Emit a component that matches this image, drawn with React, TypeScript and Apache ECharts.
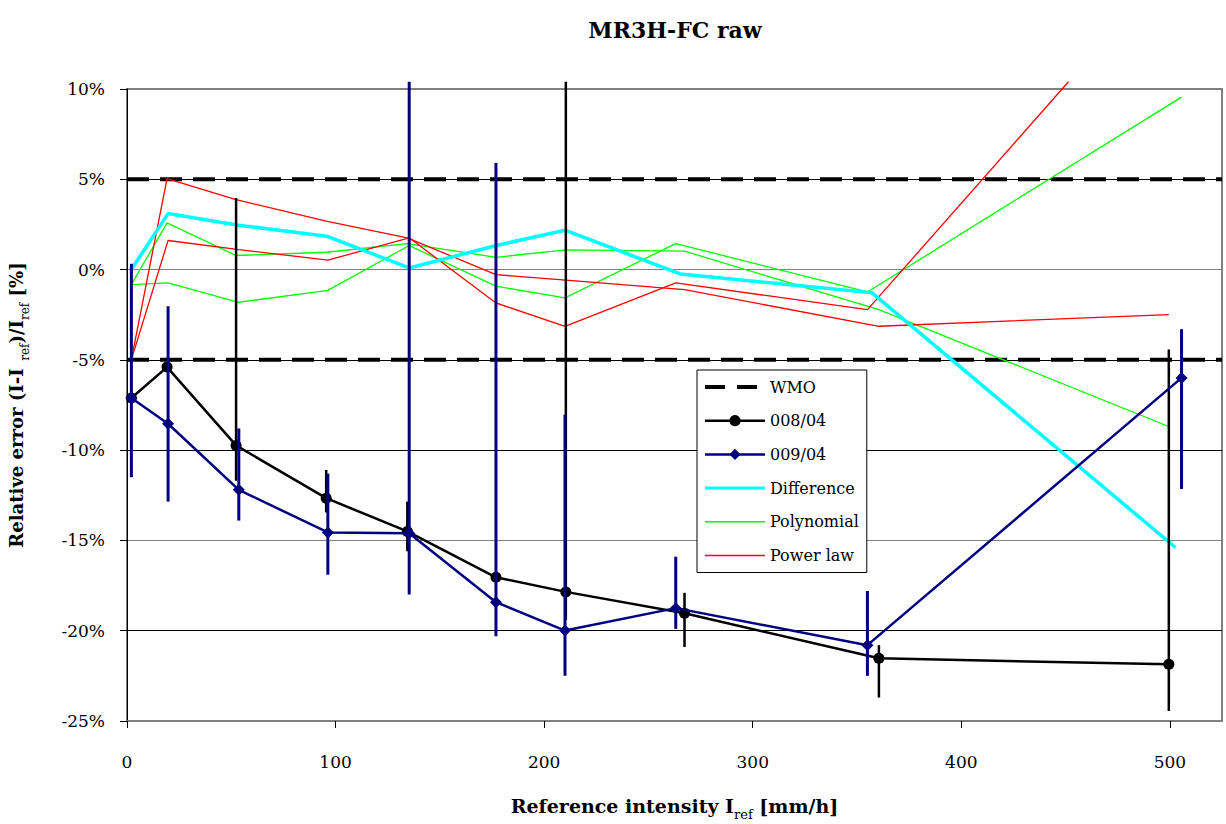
import React, { useEffect, useRef } from "react";
import * as echarts from "echarts";

const FONT = '"DejaVu Serif", "Liberation Serif", serif';

// X axis extent
const xMin = 0;
const xMax = 525;
const xTickInterval = 100;
const yMin = -25;
const yMax = 10;
const yTickInterval = 5;

// WMO limits
const wmoX = [0, 525];
const wmoUpper = [5, 5];
const wmoLower = [-5, -5];

// Series 008/04
const x008 = [2.1, 19.2, 52.3, 95.5, 134.4, 176.9, 210.4, 267.3, 360.5, 499.5];
const y008 = [-7.11, -5.4, -9.74, -12.66, -14.5, -17.04, -17.85, -19.03, -21.53, -21.86];
// Series 009/04
const x009 = [2.1, 19.7, 53.6, 96.3, 135.3, 176.9, 210.0, 263.1, 355.0, 505.6];
const y009 = [-7.11, -8.54, -12.2, -14.56, -14.6, -18.42, -19.99, -18.75, -20.8, -6.0];

// Error bars 008/04
const errX008 = [52.3, 95.5, 134.4, 210.4, 267.3, 360.5, 499.5];
const errLo008 = [-11.7, -13.45, -15.6, -19.4, -20.9, -23.7, -24.45];
const errHi008 = [3.97, -11.1, -12.85, 10.4, -17.9, -20.8, -4.43];
// Error bars 009/04
const errX009 = [2.1, 19.7, 53.6, 96.3, 135.3, 176.9, 210.0, 263.1, 355.0, 505.6];
const errLo009 = [-11.5, -12.85, -13.9, -16.9, -18.0, -20.3, -22.5, -19.9, -22.5, -12.15];
const errHi009 = [0.32, -2.03, -8.8, -11.3, 10.4, 5.9, -8.04, -15.9, -17.8, -3.3];

// Difference
const xDiff = [2.1, 19.7, 53.3, 95.7, 135.3, 177.7, 210.0, 265.2, 357.2, 502.7];
const yDiff = [0.0, 3.1, 2.46, 1.85, 0.09, 1.35, 2.18, -0.24, -1.29, -15.39];

// Polynomial fits
const yPoly008 = [-0.83, 2.59, 0.78, 0.96, 1.44, 0.68, 1.09, 1.02, -2.22, -8.69];
const yPoly009 = [-0.83, -0.74, -1.81, -1.15, 1.33, -0.92, -1.57, 1.44, -1.24, 9.55];

// Power law fits
const yPow008 = [-4.99, 5.04, 3.88, 2.68, 1.76, -0.28, -0.59, -1.11, -3.14, -2.49];
const xPow009 = [2.1, 19.7, 53.6, 96.3, 135.3, 176.9, 210.0, 263.1, 355.0, 451.4];
const yPow009 = [-4.99, 1.61, 1.11, 0.52, 1.76, -1.85, -3.14, -0.74, -2.22, 10.4];

const pairs = (xs: number[], ys: number[]) => xs.map((x, i) => [x, ys[i]]);
const triples = (xs: number[], lo: number[], hi: number[]) => xs.map((x, i) => [x, lo[i], hi[i]]);

const errRender = (color: string, width: number) => (params: any, api: any) => {
  const x = api.value(0);
  const p1 = api.coord([x, api.value(1)]);
  const p2 = api.coord([x, api.value(2)]);
  return {
    type: "line",
    shape: { x1: p1[0], y1: p1[1], x2: p2[0], y2: p2[1] },
    style: { stroke: color, lineWidth: width },
  };
};

const richName = (size: number) => ({
  a: { fontFamily: FONT, fontWeight: "bold", fontSize: size, color: "#000", lineHeight: 30, verticalAlign: "middle" },
  s: { fontFamily: FONT, fontWeight: "normal", fontSize: Math.round(size * 0.68), color: "#000", lineHeight: 30, verticalAlign: "bottom" },
});

const noSymbol = { opacity: 0 };

export default function App() {
  const ref = useRef<HTMLDivElement>(null);
  useEffect(() => {
    const chart = echarts.init(ref.current!, null, { renderer: "svg" });
    const option: any = {
      animation: false,
      backgroundColor: "#fff",
      title: {
        text: "MR3H-FC raw",
        left: 670,
        top: 14,
        textAlign: "center",
        textStyle: { fontFamily: FONT, fontWeight: "bold", fontSize: 22, color: "#000" },
      },
      grid: {
        left: 127,
        top: 89,
        right: 4,
        bottom: 103,
        containLabel: false,
        outerBoundsMode: "none",
        show: true,
        borderColor: "#808080",
        borderWidth: 2,
        backgroundColor: "transparent",
      },
      legend: {
        data: [
          { name: "WMO", lineStyle: { width: 4, type: [20, 12], color: "#000" }, itemStyle: noSymbol },
          { name: "008/04", lineStyle: { width: 2.5 } },
          { name: "009/04", lineStyle: { width: 2.5 } },
          { name: "Difference", lineStyle: { width: 3 }, itemStyle: noSymbol },
          { name: "Polynomial", lineStyle: { width: 1.5 }, itemStyle: noSymbol },
          { name: "Power law", lineStyle: { width: 1.5 }, itemStyle: noSymbol },
        ],
        orient: "vertical",
        left: 697,
        top: 370,
        itemWidth: 60,
        itemHeight: 14,
        itemGap: 17.7,
        padding: [9, 8, 9, 6],
        borderColor: "#000",
        borderWidth: 1,
        backgroundColor: "#fff",
        selectedMode: false,
        textStyle: { fontFamily: FONT, fontSize: 16, color: "#000" },
      },
      xAxis: {
        type: "value",
        min: xMin,
        max: xMax,
        interval: xTickInterval,
        name: "{a|Reference intensity I}{s|ref}{a| [mm/h]}",
        nameLocation: "middle",
        nameGap: 70,
        nameTextStyle: { rich: richName(19) },
        axisLine: { show: true, onZero: false, lineStyle: { color: "#808080", width: 2 } },
        axisTick: { show: true, length: 7, lineStyle: { color: "#000" } },
        axisLabel: {
          showMaxLabel: false,
          margin: 32,
          fontFamily: FONT,
          fontSize: 17,
          color: "#000",
        },
        splitLine: { show: false },
      },
      yAxis: {
        type: "value",
        min: yMin,
        max: yMax,
        interval: yTickInterval,
        name: "{a|Relative error (I-I}{s|  ref}{a|)/I}{s|ref}{a| [%]}",
        nameLocation: "middle",
        nameRotate: 90,
        nameGap: 96,
        nameTextStyle: { rich: richName(18) },
        axisLine: { show: true, onZero: false, lineStyle: { color: "#000", width: 1 } },
        axisTick: { show: true, length: 7, lineStyle: { color: "#000" } },
        axisLabel: {
          margin: 22,
          fontFamily: FONT,
          fontSize: 17,
          color: "#000",
          formatter: (v: number) => `${v}%`,
        },
        splitLine: {
          show: true,
          lineStyle: {
            color: ["#808080", "#000", "#808080", "#000", "#000", "#808080", "#000", "#808080"],
            width: 1,
          },
        },
      },
      series: [
        {
          name: "WMO",
          type: "line",
          data: pairs(wmoX, wmoUpper),
          symbol: "none",
          lineStyle: { color: "#000", width: 4, type: [22, 11] },
          itemStyle: { color: "#000" },
          z: 2,
        },
        {
          name: "WMO",
          type: "line",
          data: pairs(wmoX, wmoLower),
          symbol: "none",
          lineStyle: { color: "#000", width: 4, type: [22, 11] },
          itemStyle: { color: "#000" },
          z: 2,
        },
        {
          name: "Polynomial",
          type: "line",
          data: pairs(x008, yPoly008),
          symbol: "none",
          lineStyle: { color: "#00FF00", width: 1.3 },
          itemStyle: { color: "#00FF00" },
          z: 3,
        },
        {
          name: "Polynomial",
          type: "line",
          data: pairs(x009, yPoly009),
          symbol: "none",
          lineStyle: { color: "#00FF00", width: 1.3 },
          itemStyle: { color: "#00FF00" },
          z: 3,
        },
        {
          name: "Power law",
          type: "line",
          data: pairs(x008, yPow008),
          symbol: "none",
          lineStyle: { color: "#FF0000", width: 1.3 },
          itemStyle: { color: "#FF0000" },
          z: 3,
        },
        {
          name: "Power law",
          type: "line",
          data: pairs(xPow009, yPow009),
          symbol: "none",
          clip: false,
          lineStyle: { color: "#FF0000", width: 1.3 },
          itemStyle: { color: "#FF0000" },
          z: 3,
        },
        {
          name: "Difference",
          type: "line",
          data: pairs(xDiff, yDiff),
          symbol: "none",
          lineStyle: { color: "#00FFFF", width: 3.5 },
          itemStyle: { color: "#00FFFF" },
          z: 4,
        },
        {
          name: "err008",
          type: "custom",
          data: triples(errX008, errLo008, errHi008),
          encode: { x: 0, y: [1, 2] },
          renderItem: errRender("#000", 2.5),
          clip: false,
          z: 5,
        },
        {
          name: "008/04",
          type: "line",
          data: pairs(x008, y008),
          symbol: "circle",
          symbolSize: 11,
          lineStyle: { color: "#000", width: 2.5 },
          itemStyle: { color: "#000" },
          z: 6,
        },
        {
          name: "err009",
          type: "custom",
          data: triples(errX009, errLo009, errHi009),
          encode: { x: 0, y: [1, 2] },
          renderItem: errRender("#000080", 3),
          clip: false,
          z: 7,
        },
        {
          name: "009/04",
          type: "line",
          data: pairs(x009, y009),
          symbol: "diamond",
          symbolSize: 12,
          lineStyle: { color: "#000080", width: 2.5 },
          itemStyle: { color: "#000080" },
          z: 8,
        },
      ],
    };
    chart.setOption(option);
    return () => chart.dispose();
  }, []);
  return (
    <div
      ref={ref}
      style={{ position: "fixed", left: 0, top: 0, width: 1226, height: 824, background: "#fff" }}
    />
  );
}
